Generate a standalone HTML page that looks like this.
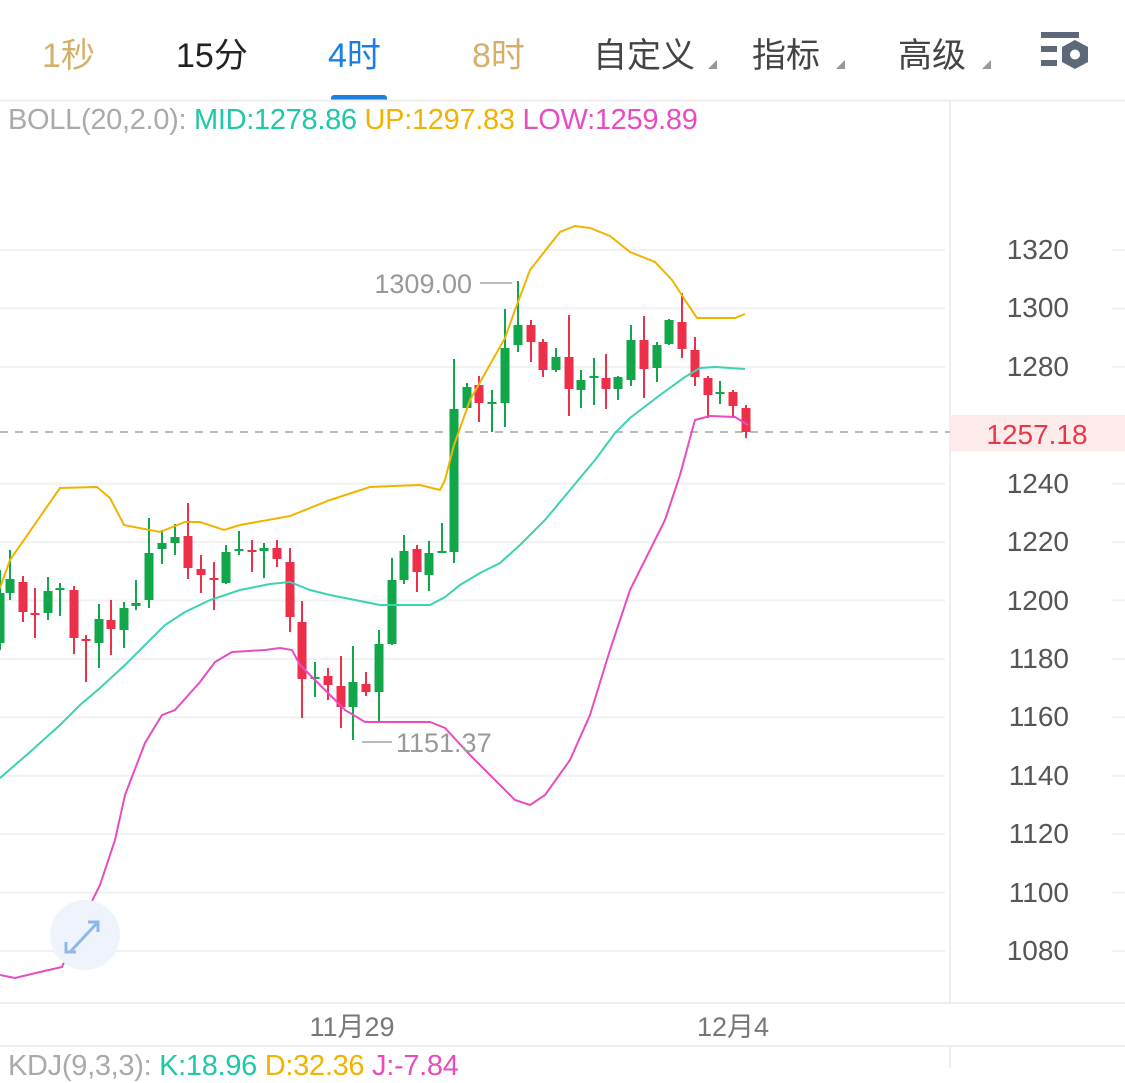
<!DOCTYPE html>
<html><head><meta charset="utf-8"><style>
body{margin:0;width:1125px;height:1068px;background:#fff;overflow:hidden;position:relative;font-family:"Liberation Sans","Noto Sans CJK SC",sans-serif}
.t{position:absolute;top:28px;font-size:34px}
.tri{position:absolute;width:0;height:0;border-left:9px solid transparent;border-bottom:9px solid #999}
.y{position:absolute;right:56px;font-size:28px;color:#555;transform:translateY(-50%)}
</style></head><body>
<div class="t" style="left:42px;color:#d4b06a">1秒</div>
<div class="t" style="left:176px;color:#222">15分</div>
<div class="t" style="left:328px;color:#1a7fe0">4时</div>
<div class="t" style="left:472px;color:#d4b06a">8时</div>
<div class="t" style="left:593px;color:#444">自定义</div><div class="tri" style="left:708px;top:60px"></div>
<div class="t" style="left:752px;color:#444">指标</div><div class="tri" style="left:836px;top:60px"></div>
<div class="t" style="left:898px;color:#444">高级</div><div class="tri" style="left:982px;top:60px"></div>
<div style="position:absolute;left:331px;top:95px;width:56px;height:6px;border-radius:3px 3px 0 0;background:#1a7fe0"></div>
<div style="position:absolute;left:8px;top:104px;font-size:29px;white-space:nowrap;letter-spacing:-0.3px"><span style="color:#aaa">BOLL(20,2.0): </span><span style="color:#1ec8a8">MID:1278.86 </span><span style="color:#f0b400">UP:1297.83 </span><span style="color:#e84cc0">LOW:1259.89</span></div>
<div style="position:absolute;left:8px;top:1050px;font-size:29px;white-space:nowrap;letter-spacing:-0.3px"><span style="color:#aaa">KDJ(9,3,3): </span><span style="color:#1ec8a8">K:18.96 </span><span style="color:#f0b400">D:32.36 </span><span style="color:#e84cc0">J:-7.84</span></div>
<svg width="1125" height="1068" style="position:absolute;left:0;top:0" id="s">
<g fill="#5d6878"><rect x="1041" y="32" width="38" height="6"/><rect x="1041" y="46" width="16" height="6"/><rect x="1041" y="60" width="16" height="6"/></g>
<polygon points="1075,40 1088,47 1088,62 1075,69 1062,62 1062,47" fill="#5d6878"/><circle cx="1075" cy="54.5" r="5" fill="#fff"/>
<line x1="0" y1="100.5" x2="1125" y2="100.5" stroke="#eee" stroke-width="2"/>
<line x1="950" y1="100" x2="950" y2="1003" stroke="#eee" stroke-width="2"/>
<line x1="0" y1="1003" x2="1125" y2="1003" stroke="#eee" stroke-width="2"/>
<line x1="0" y1="1046" x2="1125" y2="1046" stroke="#eee" stroke-width="2"/>
<line x1="950" y1="1046" x2="950" y2="1068" stroke="#eee" stroke-width="2"/>
<g id="grid" stroke="#f1f1f1" stroke-width="2"></g>
<line x1="0" y1="432" x2="950" y2="432" stroke="#bbb" stroke-width="2" stroke-dasharray="8,7"/>
<rect x="950" y="415" width="175" height="36" fill="#fdeaea"/>
<text x="1037" y="444" font-size="28" fill="#e83848" text-anchor="middle" font-family="Liberation Sans">1257.18</text>
<g id="c"></g>
<polyline fill="none" stroke="#f0b400" stroke-width="2" points="0,588 10,560 60,488 97,487 110,498 124,525 160,532 185,522 200,522 224,530 240,525 290,516 330,500 370,487 420,485 440,490 445,480 454,445 470,400 505,338 515,310 530,270 560,232 575,226 590,228 610,236 630,252 655,262 672,280 685,300 697,318 735,318 745,314"/>
<polyline fill="none" stroke="#3cd2b4" stroke-width="2" points="0,778 30,752 60,725 80,705 100,688 125,665 145,645 165,625 185,612 210,600 240,590 270,584 290,582 310,590 330,595 360,601 380,605 400,605 430,605 445,597 460,585 480,573 500,563 520,545 545,520 570,490 595,460 615,433 630,418 660,395 685,377 700,368 715,367 745,369"/>
<polyline fill="none" stroke="#e84cc0" stroke-width="2" points="0,975 15,978 40,972 62,967 80,925 100,885 115,840 125,795 145,743 162,715 175,710 200,682 215,662 232,652 265,650 280,648 292,650 300,665 320,685 345,710 365,722 390,722 430,722 445,728 470,755 490,775 515,800 530,805 545,795 570,760 590,715 610,650 630,590 650,550 665,520 680,475 695,420 710,416 735,417 748,425"/>
<text x="472" y="293" font-size="27" fill="#999" text-anchor="end" font-family="Liberation Sans">1309.00</text>
<line x1="480" y1="283" x2="512" y2="283" stroke="#bbb" stroke-width="2"/>
<line x1="362" y1="742" x2="392" y2="742" stroke="#bbb" stroke-width="2"/>
<text x="396" y="752" font-size="27" fill="#999" font-family="Liberation Sans">1151.37</text>
<circle cx="85" cy="935" r="35" fill="#eef3fc"/>
<g stroke="#8fb8e8" stroke-width="3" fill="none"><path d="M70,952 L98,922 M88,922 H98 V932 M66,942 V952 H76"/></g>
<text x="352" y="1036" font-size="27" fill="#777" text-anchor="middle" font-family="Liberation Sans,Noto Sans CJK SC">11月29</text>
<text x="733" y="1036" font-size="27" fill="#777" text-anchor="middle" font-family="Liberation Sans,Noto Sans CJK SC">12月4</text>
</svg>
<div id="yl"></div>
<script>
var ns="http://www.w3.org/2000/svg",g=document.getElementById('grid'),yl=document.getElementById('yl');
for(var i=0;i<13;i++){var v=1320-20*i,y=250+i*58.42;
if(v!=1260){var l=document.createElementNS(ns,'line');l.setAttribute('x1',0);l.setAttribute('x2',945);l.setAttribute('y1',y);l.setAttribute('y2',y);g.appendChild(l);
var l2=document.createElementNS(ns,'line');l2.setAttribute('x1',1112);l2.setAttribute('x2',1125);l2.setAttribute('y1',y);l2.setAttribute('y2',y);g.appendChild(l2);
var d=document.createElement('div');d.className='y';d.style.top=y+'px';d.textContent=v;yl.appendChild(d);}}
var C=[[0,'g',593,643,570,650],[10,'g',579,593,550,600],[23,'r',582,612,576,622],[35,'r',613,615,588,638],[48,'g',591,613,577,620],[60,'g',588,590,583,616],[74,'r',590,638,586,654],[86,'r',639,641,635,682],[99,'g',619,643,604,668],[111,'r',620,629,600,655],[124,'g',608,630,602,648],[136,'g',603,606,580,610],[149,'g',553,600,518,608],[162,'g',543,549,530,564],[175,'g',537,543,524,555],[188,'r',536,568,503,579],[201,'r',569,575,555,593],[214,'r',578,580,562,610],[226,'g',552,583,545,584],[239,'g',549,551,531,555],[252,'r',550,552,540,572],[264,'g',548,551,543,578],[277,'r',548,559,540,567],[290,'r',562,617,548,632],[302,'r',622,679,601,718],[315,'g',677,679,662,697],[328,'r',676,685,668,700],[341,'r',686,707,656,728],[353,'g',682,707,646,740],[366,'r',684,692,672,696],[379,'g',644,692,630,721],[392,'g',580,644,558,645],[404,'g',551,580,535,584],[417,'r',549,572,545,592],[429,'g',553,575,541,591],[442,'g',551,553,523,553],[454,'g',409,552,359,563],[467,'g',387,408,383,410],[479,'r',385,403,376,422],[492,'g',402,404,390,432],[505,'g',348,403,309,427],[518,'g',325,345,281,352],[531,'r',325,342,320,362],[543,'r',342,370,339,377],[556,'g',357,370,348,372],[569,'r',357,389,315,416],[581,'g',380,390,370,408],[594,'g',376,378,358,405],[606,'r',378,389,354,409],[618,'g',377,389,376,400],[631,'g',340,380,325,386],[644,'r',340,369,316,398],[657,'g',345,368,342,382],[669,'g',320,344,319,345],[682,'r',322,349,293,358],[695,'r',350,377,337,386],[708,'r',378,395,376,418],[720,'g',392,394,381,404],[733,'r',392,406,390,418],[746,'r',408,432,405,438]];
var cg=document.getElementById('c');
C.forEach(function(c){var col=c[1]=='g'?'#12a64a':'#ee2f4a';
var w=document.createElementNS(ns,'line');w.setAttribute('x1',c[0]);w.setAttribute('x2',c[0]);w.setAttribute('y1',c[4]);w.setAttribute('y2',c[5]);w.setAttribute('stroke',col);w.setAttribute('stroke-width',2);cg.appendChild(w);
var r=document.createElementNS(ns,'rect');r.setAttribute('x',c[0]-4.5);r.setAttribute('width',9);r.setAttribute('y',c[2]);r.setAttribute('height',Math.max(2,c[3]-c[2]));r.setAttribute('fill',col);cg.appendChild(r);});
</script>
</body></html>
